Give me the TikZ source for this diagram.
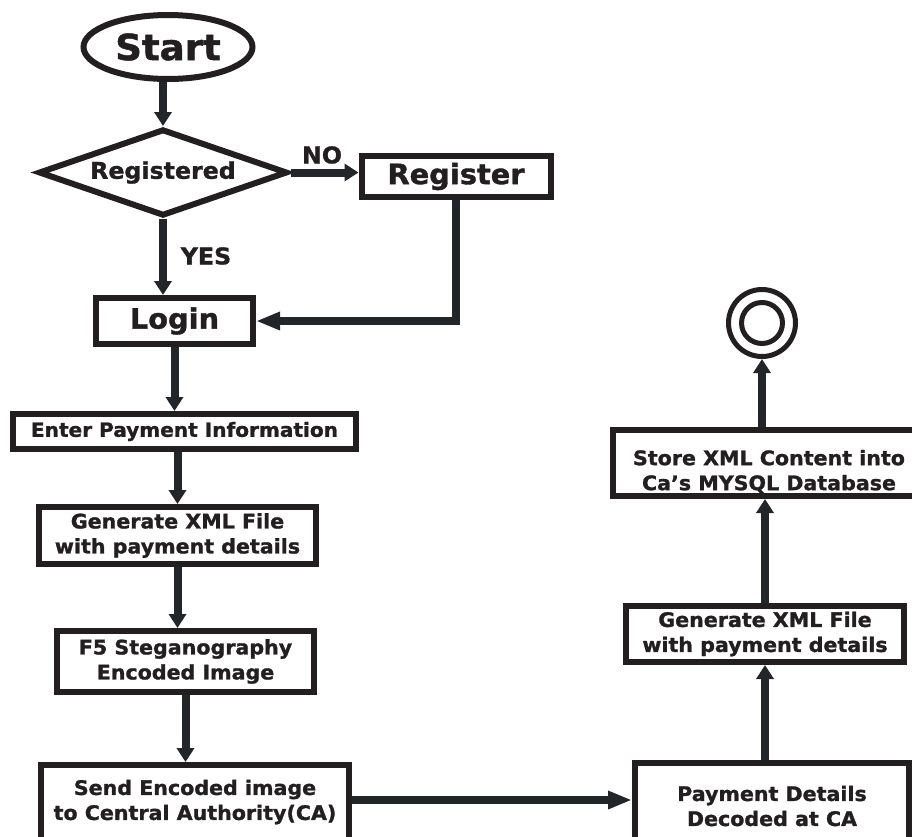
\documentclass[tikz,border=0pt]{standalone}
\usepackage{fontspec}
\setmainfont{DejaVu Sans}[BoldFeatures={FakeBold=1.3,FakeStretch=1.03}]
\usetikzlibrary{shapes.geometric,arrows.meta,calc}
\definecolor{ink}{HTML}{231F20}
\definecolor{arrc}{HTML}{22262A}
\begin{document}
\begin{tikzpicture}[x=1pt,y=-1pt,
  boxline/.style={draw=ink, line width=6pt},
  procbox/.style={boxline, rectangle, inner sep=0pt, align=center,
    font=\bfseries\fontsize{20}{25}\selectfont, text=ink},
  plaintext/.style={inner sep=0pt, align=center,
    font=\bfseries\fontsize{20}{25}\selectfont, text=ink},
  arr/.style={draw=arrc, line width=8pt, line join=miter,
    -{Triangle[length=14pt,width=17pt]}},
  longarr/.style={draw=arrc, line width=8pt, line join=miter,
    -{Triangle[length=24pt,width=17pt]}},
  lbl/.style={inner sep=0pt, font=\bfseries\fontsize{23}{26}\selectfont, text=ink}]
\useasboundingbox (0,0) rectangle (912,836);

% nodes
\node[boxline, ellipse, minimum width=169pt, minimum height=64pt, inner sep=0pt,
  font=\bfseries\fontsize{36}{40}\selectfont, text=ink] (start) at (168,47) {Start};
\node[boxline, diamond, minimum width=249pt, minimum height=87pt, inner sep=0pt,
  aspect=2.86, font=\bfseries\fontsize{23}{26}\selectfont, text=ink] (dia) at (163,172.5) {Registered};
\node[procbox, minimum width=189pt, minimum height=41pt,
  font=\bfseries\fontsize{28}{30}\selectfont] (reg) at (456,176.5) {Register};
\node[procbox, minimum width=157pt, minimum height=46pt,
  font=\bfseries\fontsize{28}{30}\selectfont] (login) at (174.5,321) {Login};
\node[procbox, minimum width=343pt, minimum height=35pt,
  font=\bfseries\fontsize{19.5}{24}\selectfont] (enter) at (184.5,431.5) {Enter Payment Information};
\node[procbox, minimum width=277pt, minimum height=57pt] (genL) at (177.5,535.5)
  {Generate XML File\\with payment details};
\node[procbox, minimum width=257pt, minimum height=61pt] (f5) at (185.5,661.5)
  {F5 Steganography\\Encoded Image};
\node[plaintext, minimum width=308pt, minimum height=70pt, outer sep=0pt] (send) at (195,802)
  {Send Encoded image\\to Central Authority(CA)};
\draw[boxline] ([yshift=-20pt]send.south west) -- ([yshift=2pt]send.north west) -- ([yshift=2pt]send.north east)
  -- ([yshift=-20pt]send.south east);
\coordinate (sendtop) at ([yshift=5pt]send.north);
\coordinate (sendright) at ([xshift=3pt,yshift=2pt]send.east);

\node[procbox, minimum width=274pt, minimum height=86pt] (pay) at (772,806)
  {Payment Details\\Decoded at CA};
\node[procbox, minimum width=278pt, minimum height=56pt] (genR) at (765,634)
  {Generate XML File\\with payment details};
\node[procbox, minimum width=322pt, minimum height=66pt] (store) at (774,463) {};
\node[plaintext] (storetxt) at (769,471.5) {Store XML Content into\\Ca’s MYSQL Database};

\node[circle, draw=ink, line width=5pt, minimum size=67pt, inner sep=0pt] (endc) at (762,323) {};
\node[circle, draw=ink, line width=5pt, minimum size=41pt, inner sep=0pt] (endin) at (endc) {};

% labels
\node[lbl] (no) at (322,155) {NO};
\node[lbl] (yes) at (206,256) {YES};

% connectors
\draw[arr] (start.south -| dia.north) -- (dia.north);
\draw[arr] (dia.south) -- (dia.south |- login.north);
\draw[arr] (dia.east) -- (dia.east -| reg.west);
\draw[longarr] (reg.south) |- (login.east);
\draw[arr] (login.south) -- (login.south |- enter.north);
\draw[arr] (enter.south -| genL.north) -- (genL.north);
\draw[arr] (genL.south) -- (genL.south |- f5.north);
\draw[arr] (f5.south) -- (f5.south |- sendtop);
\draw[longarr] (sendright) -- (sendright -| pay.west);
\draw[arr] (pay.north -| genR.south) -- (genR.south);
\draw[arr] (genR.north) -- (genR.north |- store.south);
\draw[arr] (store.north -| endc.south) -- (endc.south);
\end{tikzpicture}
\end{document}
